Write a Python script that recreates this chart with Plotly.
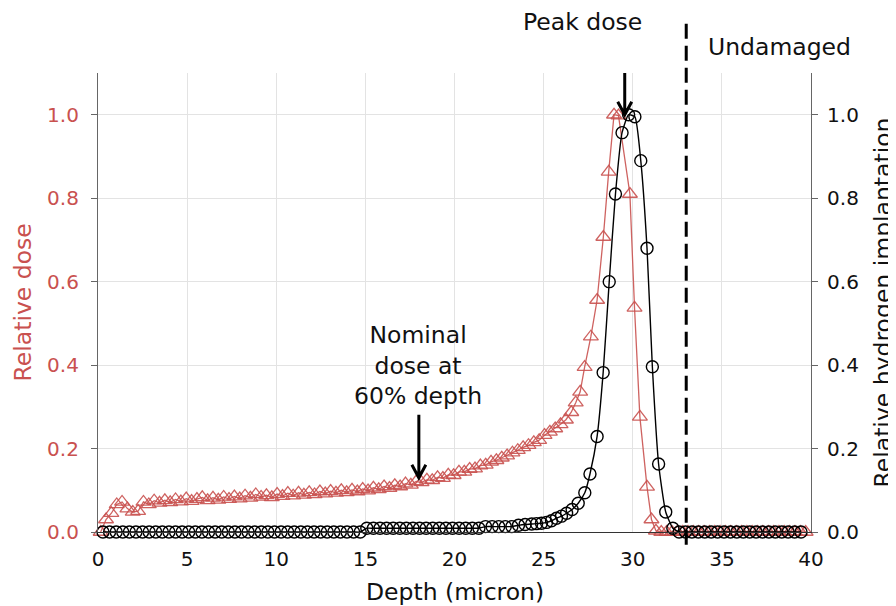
import plotly.graph_objects as go

# ---------------- data ----------------
dose_depth = [0.15, 0.45, 0.75, 1.05, 1.35, 1.65, 1.95, 2.25, 2.55, 2.85, 3.15, 3.45, 3.75, 4.05, 4.35,
              4.65, 4.95, 5.25, 5.55, 5.85, 6.15, 6.45, 6.75, 7.05, 7.35, 7.65, 7.95, 8.25, 8.55, 8.85,
              9.15, 9.45, 9.75, 10.05, 10.35, 10.65, 10.95, 11.25, 11.55, 11.85, 12.15, 12.45, 12.75,
              13.05, 13.35, 13.65, 13.95, 14.25, 14.55, 14.85, 15.15, 15.45, 15.75, 16.05, 16.35, 16.65,
              16.95, 17.25, 17.55, 17.85, 18.15, 18.45, 18.75, 19.05, 19.35, 19.65, 19.95, 20.25, 20.55,
              20.85, 21.15, 21.45, 21.75, 22.05, 22.35, 22.65, 22.95, 23.25, 23.55, 23.85, 24.15, 24.45,
              24.75, 25.05, 25.35, 25.65, 25.95, 26.25, 26.55, 26.8, 27.05, 27.3, 27.65, 28.0, 28.35,
              28.65, 28.95, 29.2, 29.84, 30.1, 30.4, 30.8, 31.05, 31.3, 31.6, 31.9, 32.2, 32.5, 32.8,
              33.1, 33.4, 33.7, 34.0, 34.3, 34.6, 34.9, 35.2, 35.5, 35.8, 36.1, 36.4, 36.7, 37.0, 37.3,
              37.6, 37.9, 38.2, 38.5, 38.8, 39.1, 39.4, 39.7]
relative_dose = [0.000, 0.030, 0.045, 0.066, 0.072, 0.056, 0.048, 0.050, 0.072, 0.066, 0.075, 0.070,
                 0.076, 0.071, 0.078, 0.073, 0.080, 0.074, 0.079, 0.083, 0.076, 0.082, 0.077, 0.084,
                 0.079, 0.085, 0.080, 0.087, 0.082, 0.090, 0.084, 0.088, 0.083, 0.091, 0.086, 0.093,
                 0.087, 0.094, 0.089, 0.095, 0.090, 0.097, 0.092, 0.098, 0.094, 0.100, 0.095, 0.101,
                 0.097, 0.103, 0.099, 0.106, 0.102, 0.109, 0.105, 0.112, 0.109, 0.116, 0.113, 0.121,
                 0.119, 0.125, 0.124, 0.131, 0.129, 0.137, 0.136, 0.144, 0.144, 0.151, 0.152, 0.159,
                 0.161, 0.168, 0.172, 0.178, 0.183, 0.190, 0.196, 0.203, 0.208, 0.215, 0.220, 0.232,
                 0.240, 0.248, 0.258, 0.269, 0.287, 0.310, 0.336, 0.395, 0.468, 0.556, 0.707, 0.863,
                 1.000, 0.998, 0.810, 0.537, 0.276, 0.108, 0.030, 0.003, 0.0, 0.0, 0.0, 0.0, 0.0, 0.0,
                 0.0, 0.0, 0.0, 0.0, 0.0, 0.0, 0.0, 0.0, 0.0, 0.0, 0.0, 0.0, 0.0, 0.0, 0.0, 0.0, 0.0,
                 0.0, 0.0, 0.0, 0.0, 0.0]

implant_depth = [0.28, 0.65, 1.02, 1.39, 1.76, 2.13, 2.5, 2.87, 3.24, 3.61, 3.98, 4.35, 4.72, 5.09,
                 5.46, 5.83, 6.2, 6.57, 6.94, 7.31, 7.68, 8.05, 8.42, 8.79, 9.16, 9.53, 9.9, 10.27,
                 10.64, 11.01, 11.38, 11.75, 12.12, 12.49, 12.86, 13.23, 13.6, 13.97, 14.34, 14.71,
                 15.08, 15.45, 15.82, 16.19, 16.56, 16.93, 17.3, 17.67, 18.04, 18.41, 18.78, 19.15,
                 19.52, 19.89, 20.26, 20.63, 21.0, 21.37, 21.74, 22.11, 22.48, 22.85, 23.22, 23.59,
                 23.96, 24.33, 24.6, 24.88, 25.16, 25.44, 25.72, 26.0, 26.29, 26.6, 26.94, 27.31,
                 27.6, 28.0, 28.34, 28.68, 29.03, 29.4, 29.77, 30.12, 30.45, 30.8, 31.1, 31.45,
                 31.85, 32.25, 32.6, 32.96, 33.32, 33.68, 34.04, 34.4, 34.76, 35.12, 35.48, 35.84,
                 36.2, 36.56, 36.92, 37.28, 37.64, 38.0, 38.36, 38.72, 39.08, 39.44]
relative_implant = [0.0, 0.0, 0.0, 0.0, 0.0, 0.0, 0.0, 0.0, 0.0, 0.0, 0.0, 0.0, 0.0, 0.0, 0.0, 0.0,
                    0.0, 0.0, 0.0, 0.0, 0.0, 0.0, 0.0, 0.0, 0.0, 0.0, 0.0, 0.0, 0.0, 0.0, 0.0, 0.0,
                    0.0, 0.0, 0.0, 0.0, 0.0, 0.0, 0.0, 0.0,
                    0.009, 0.009, 0.009, 0.009, 0.009, 0.009, 0.009, 0.009, 0.009, 0.009, 0.009,
                    0.009, 0.009, 0.009, 0.009, 0.009, 0.009, 0.009,
                    0.013, 0.013, 0.013, 0.013, 0.013, 0.016, 0.018, 0.019,
                    0.020, 0.021, 0.023, 0.027, 0.033, 0.038, 0.045, 0.054, 0.069, 0.094, 0.139,
                    0.229, 0.382, 0.600, 0.810, 0.957, 1.000, 0.995, 0.890, 0.680, 0.396, 0.163,
                    0.048, 0.009,
                    0.0, 0.0, 0.0, 0.0, 0.0, 0.0, 0.0, 0.0, 0.0, 0.0, 0.0, 0.0, 0.0, 0.0, 0.0, 0.0,
                    0.0, 0.0, 0.0, 0.0]

y_ticks = [0.0, 0.2, 0.4, 0.6, 0.8, 1.0]
x_ticks = [0, 5, 10, 15, 20, 25, 30, 35, 40]
undamaged_depth = 33.0
peak_arrow = (29.55, 1.0)
nominal_arrow = (18.0, 0.13)

RED = "#c9514f"
RED_A = "rgba(201,81,79,0.9)"
FONT = "DejaVu Sans"
TXT = 23.5

fig = go.Figure()
fig.add_trace(go.Scatter(
    x=dose_depth, y=relative_dose, mode="lines+markers", yaxis="y",
    line=dict(color=RED_A, width=1.3),
    marker=dict(symbol="triangle-up-open", size=13, color=RED_A,
                line=dict(width=1.3, color=RED_A)),
    cliponaxis=False, showlegend=False))
fig.add_trace(go.Scatter(
    x=implant_depth, y=relative_implant, mode="lines+markers", yaxis="y2",
    line=dict(color="black", width=1.4, shape="spline", smoothing=0.5),
    marker=dict(symbol="circle-open", size=12, color="black", line=dict(width=1.4, color="black")),
    cliponaxis=False, showlegend=False))

axis_line = "#666666"
grid = "#e3e3e3"
# the page body adds an 8px margin, so the figure is 888x598 and placed at (8, 8)
fig.update_layout(
    width=888, height=598,
    margin=dict(l=90, r=85, t=65, b=74, autoexpand=False),
    paper_bgcolor="white", plot_bgcolor="white",
    font=dict(family=FONT, size=20, color="#111"),
    xaxis=dict(range=[0, 40], tickvals=x_ticks, showgrid=True, gridcolor=grid, gridwidth=1,
               showline=True, linecolor="#333", linewidth=1.2, ticks="", zeroline=False,
               ticklabelstandoff=9, automargin=False),
    yaxis=dict(range=[0, 1.1], tickvals=y_ticks, tickformat=".1f", showgrid=True, gridcolor=grid,
               showline=True, linecolor=axis_line, linewidth=1.2, ticks="outside", ticklen=6,
               tickcolor=axis_line, zeroline=False, ticklabelstandoff=8, automargin=False,
               tickfont=dict(color=RED)),
    yaxis2=dict(range=[0, 1.1], tickvals=y_ticks, tickformat=".1f", overlaying="y", side="right",
                showgrid=False, showline=True, linecolor=axis_line, linewidth=1.2, ticks="outside",
                ticklen=6, tickcolor=axis_line, zeroline=False, ticklabelstandoff=5, automargin=False),
    annotations=[
        # axis titles
        dict(x=0.5, y=-0.131, xref="paper", yref="paper", text="Depth (micron)", showarrow=False,
             font=dict(size=TXT, color="#111"), xanchor="center", yanchor="middle"),
        dict(x=-0.1052, y=0.5, xref="paper", yref="paper", text="Relative dose", showarrow=False,
             textangle=-90, font=dict(size=TXT, color=RED), xanchor="center", yanchor="middle"),
        dict(x=1.0996, y=0.5, xref="paper", yref="paper", text="Relative hydrogen implantation",
             showarrow=False, textangle=-90, font=dict(size=TXT, color="#111"),
             xanchor="center", yanchor="middle"),
        # labels
        dict(x=27.2, y=1.111, xref="x", yref="paper", text="Peak dose", showarrow=False,
             font=dict(size=TXT, color="#111"), xanchor="center", yanchor="middle"),
        dict(x=38.25, y=1.057, xref="x", yref="paper", text="Undamaged", showarrow=False,
             font=dict(size=TXT, color="#111"), xanchor="center", yanchor="middle"),
        dict(x=17.95, y=0.398, xref="x", yref="y", text="Nominal<br>dose at<br>60% depth",
             showarrow=False, font=dict(size=TXT, color="#111"), xanchor="center", yanchor="middle"),
    ],
    shapes=[
        dict(type="line", xref="x", yref="paper", x0=undamaged_depth, x1=undamaged_depth,
             y0=-0.028, y1=1.12, line=dict(color="black", width=3, dash="15px,7px"), layer="above"),
        dict(type="path", xref="x", yref="y", xsizemode="pixel", ysizemode="pixel",
             xanchor=peak_arrow[0], yanchor=peak_arrow[1],
             path="M0,63 L0,1 M-7,13 L0,0 L7,13", line=dict(color="black", width=3), layer="above"),
        dict(type="path", xref="x", yref="y", xsizemode="pixel", ysizemode="pixel",
             xanchor=nominal_arrow[0], yanchor=nominal_arrow[1],
             path="M0,63 L0,1 M-7,13 L0,0 L7,13", line=dict(color="black", width=3), layer="above"),
    ],
)

fig.write_html("out.html", config={"displayModeBar": False})
